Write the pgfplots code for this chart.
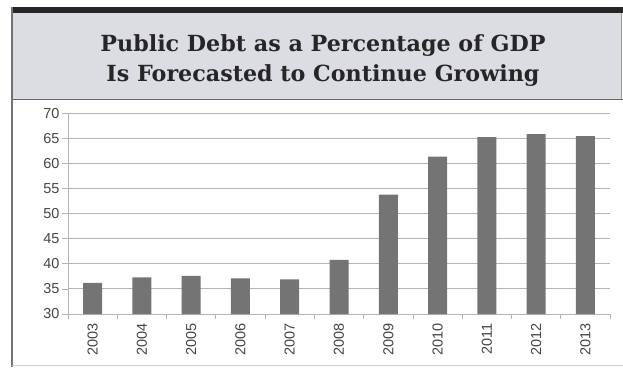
\documentclass[border=0pt]{standalone}
\usepackage{pgfplots}
\pgfplotsset{compat=1.18}
\usepackage{fontspec}
\setmainfont{Liberation Sans}
\newfontfamily\titlefont{DejaVu Serif}
\definecolor{barc}{HTML}{747474}
\definecolor{gridc}{HTML}{B4B4B4}
\definecolor{headc}{HTML}{DCDDE2}
\definecolor{tickc}{HTML}{444444}
\begin{document}
\begin{tikzpicture}[x=1bp,y=1bp]
\useasboundingbox (0,0) rectangle (623,367);
% header
\fill[headc] (12,353.5) rectangle (621,268);
\fill[black!85] (11,360) rectangle (623,353.5);
\draw[black!60,line width=1.2bp] (11.5,267.5) -- (623,267.5);
\draw[black!55,line width=1.2bp] (12,360) -- (12,0);
\draw[black!40,line width=0.8bp] (621,353.5) -- (621,268);
\draw[black!20,line width=0.8bp] (12,2) -- (623,2);
\node[font=\titlefont\bfseries\fontsize{22.3}{30}\selectfont, text=black!85, anchor=base] at (323,315.3) {Public Debt as a Percentage of GDP};
\node[font=\titlefont\bfseries\fontsize{22.3}{30}\selectfont, text=black!85, anchor=base] at (323,286) {Is Forecasted to Continue Growing};
\begin{axis}[
  at={(68bp,53bp)}, anchor=south west,
  scale only axis, width=542bp, height=200.5bp,
  ymin=30, ymax=70, ytick={30,35,...,70},
  xmin=-0.5, xmax=10.5,
  xtick={0,...,10},
  xticklabels={2003,2004,2005,2006,2007,2008,2009,2010,2011,2012,2013},
  x tick label style={rotate=90, anchor=east, font=\fontsize{14.5}{16}\selectfont, text=tickc},
  y tick label style={font=\fontsize{14.5}{16}\selectfont, text=tickc},
  /pgf/number format/assume math mode=true,
  minor xtick={-0.5,0.5,...,10.5},
  major x tick style={draw=none},
  minor x tick style={gridc, line width=0.8bp},
  minor tick length=5bp,
  major tick length=6bp,
  ytick style={gridc, line width=0.8bp},
  ymajorgrids, grid style={gridc, line width=0.9bp},
  axis x line*=bottom, axis y line*=left,
  axis line style={gridc, line width=0.9bp},
  xtick pos=bottom, ytick pos=left,
  tick align=outside,
  xticklabel style={xshift=0bp},
  yticklabel style={xshift=1bp},
  ybar, bar width=19bp,
]
\addplot[fill=barc, draw=none] coordinates {
(0,36.2) (1,37.3) (2,37.6) (3,37.1) (4,36.9) (5,40.8) (6,53.8) (7,61.4) (8,65.3) (9,65.9) (10,65.5)};
\end{axis}
\end{tikzpicture}
\end{document}
